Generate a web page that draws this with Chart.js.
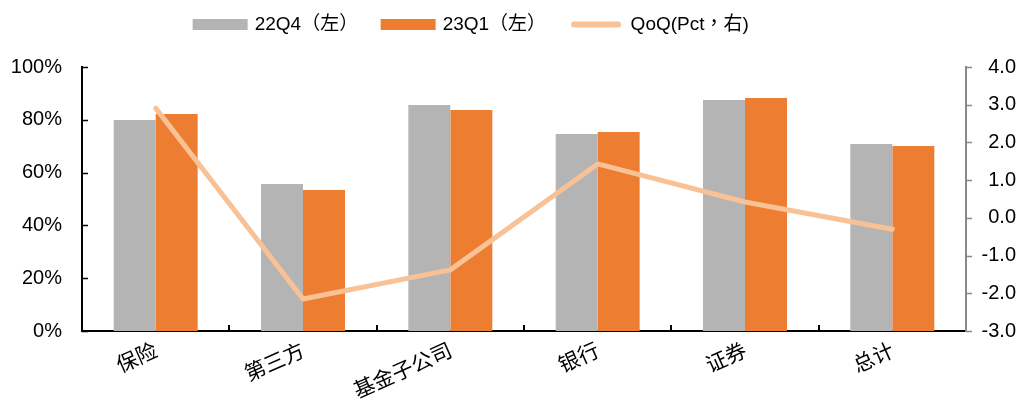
<!DOCTYPE html>
<html>
<head>
<meta charset="utf-8">
<script src="https://cdn.jsdelivr.net/npm/chart.js@4/dist/chart.umd.min.js"></script>
<style>
  html, body { margin: 0; padding: 0; background: #fff; }
  #wrap { width: 1024px; height: 403px; }
</style>
</head>
<body>
<div id="wrap"><canvas id="chart"></canvas></div>
<script>
const categories = ["保险", "第三方", "基金子公司", "银行", "证券", "总计"];
const q4Values = [79.9, 55.7, 85.6, 74.6, 87.5, 70.8];
const q1Values = [82.2, 53.4, 83.7, 75.4, 88.3, 70.1];
const qoqValues = [2.91, -2.15, -1.38, 1.43, 0.42, -0.30];
const seriesNames = ["22Q4（左）", "23Q1（左）", "QoQ(Pct，右)"];

const FONT = "'Liberation Sans', Arial, 'Noto Sans CJK SC', sans-serif";
Chart.defaults.font.family = FONT;
Chart.defaults.font.size = 20;
Chart.defaults.color = "#000";

// legend sits in a fixed band above the plot; tick marks drawn by hand
const axisTicks = {
  id: "axisTicks",
  beforeInit(chart) {
    const legend = chart.legend;
    const fit = legend.fit;
    legend.fit = function () { fit.call(this); this.height = 67; };
    const draw = legend.draw;
    legend.draw = function () {
      const ctx = this.ctx;
      ctx.save();
      ctx.translate(-36, -10);
      draw.call(this);
      ctx.restore();
    };
  },
  afterDraw(chart) {
    const { ctx, chartArea: a, scales: { x, y, y1 } } = chart;
    ctx.save();
    ctx.lineWidth = 1.5;
    ctx.strokeStyle = "#000";
    ctx.beginPath();
    y.ticks.forEach(t => {
      const py = Math.round(y.getPixelForValue(t.value)) + 0.5;
      ctx.moveTo(a.left, py);
      ctx.lineTo(a.left + 6, py);
    });
    ctx.stroke();

    ctx.strokeStyle = "#898989";
    ctx.beginPath();
    y1.ticks.forEach(t => {
      const py = Math.round(y1.getPixelForValue(t.value)) + 0.5;
      ctx.moveTo(a.right, py);
      ctx.lineTo(a.right + 6, py);
    });
    ctx.stroke();

    ctx.lineWidth = 2;
    ctx.strokeStyle = "#000";
    ctx.beginPath();
    for (let i = 0; i < categories.length - 1; i++) {
      const px = Math.round((x.getPixelForValue(i) + x.getPixelForValue(i + 1)) / 2);
      ctx.moveTo(px, a.bottom);
      ctx.lineTo(px, a.bottom - 6);
    }
    ctx.stroke();
    ctx.restore();
  }
};

new Chart(document.getElementById("chart"), {
  data: {
    labels: categories,
    datasets: [
      {
        type: "bar",
        label: seriesNames[0],
        data: q4Values,
        backgroundColor: "#B4B4B4",
        yAxisID: "y",
        barPercentage: 1,
        categoryPercentage: 0.57,
        order: 1
      },
      {
        type: "bar",
        label: seriesNames[1],
        data: q1Values,
        backgroundColor: "#ED7D31",
        yAxisID: "y",
        barPercentage: 1,
        categoryPercentage: 0.57,
        order: 1
      },
      {
        type: "line",
        label: seriesNames[2],
        data: qoqValues,
        borderColor: "#F8C196",
        backgroundColor: "#F8C196",
        borderWidth: 5,
        borderCapStyle: "round",
        borderJoinStyle: "round",
        pointRadius: 0,
        tension: 0,
        yAxisID: "y1",
        order: 0
      }
    ]
  },
  options: {
    responsive: true,
    maintainAspectRatio: false,
    animation: false,
    events: [],
    layout: { padding: { left: 0, right: 8, top: 0, bottom: 0 } },
    plugins: {
      tooltip: { enabled: false },
      legend: {
        position: "top",
        labels: {
          boxWidth: 50,
          boxHeight: 6,
          padding: 25,
          font: { size: 19, family: "'Liberation Sans', Arial, 'Noto Sans CJK TC', sans-serif" },
          generateLabels(chart) {
            return chart.data.datasets.map((ds, i) => {
              const isLine = ds.type === "line";
              const c = isLine ? ds.borderColor : ds.backgroundColor;
              return {
                text: ds.label,
                fillStyle: c,
                strokeStyle: c,
                lineWidth: isLine ? 0 : 5,
                borderRadius: isLine ? 3 : 0,
                fontColor: "#000",
                hidden: false,
                datasetIndex: i
              };
            });
          }
        }
      }
    },
    scales: {
      x: {
        grid: { display: false, drawTicks: false },
        border: { display: true, color: "#000", width: 2 },
        ticks: {
          autoSkip: false,
          minRotation: 24,
          maxRotation: 24,
          padding: 6,
          font: { size: 21, family: "'Noto Sans CJK SC', sans-serif" }
        },
        afterFit(s) { s.height = 72; }
      },
      y: {
        position: "left",
        min: 0,
        max: 100,
        grid: { display: false, drawTicks: false },
        border: { display: true, color: "#000", width: 2 },
        ticks: {
          stepSize: 20,
          padding: 20,
          callback: v => v + "%"
        },
        afterFit(s) { s.width = 82; }
      },
      y1: {
        position: "right",
        min: -3,
        max: 4,
        grid: { display: false, drawTicks: false },
        border: { display: true, color: "#898989", width: 2 },
        ticks: {
          stepSize: 1,
          crossAlign: "far",
          callback: v => v.toFixed(1)
        },
        afterFit(s) { s.width = 50; }
      }
    }
  },
  plugins: [axisTicks]
});
</script>
</body>
</html>
